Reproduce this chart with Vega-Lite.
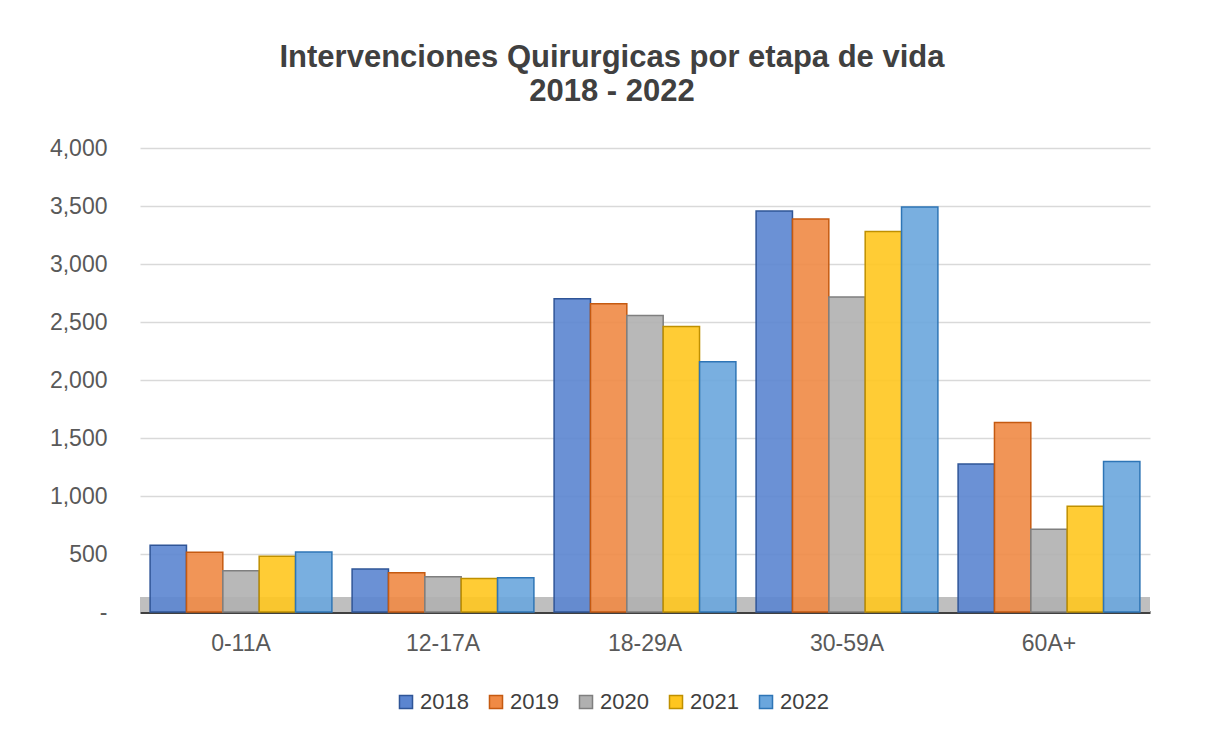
{
  "$schema": "https://vega.github.io/schema/vega-lite/v6.json",
  "autosize": {"type": "none"},
  "width": 1010,
  "height": 464,
  "padding": {"left": 140, "top": 148, "right": 55, "bottom": 119},
  "background": "white",
  "title": {
    "text": ["Intervenciones Quirurgicas por etapa de vida", "2018 - 2022"],
    "font": "Liberation Sans",
    "fontSize": 31,
    "fontWeight": "bold",
    "color": "#404040",
    "anchor": "middle",
    "dx": -33,
    "offset": 29,
    "lineHeight": 34
  },
  "config": {
    "view": {"stroke": null},
    "font": "Liberation Sans"
  },
  "data": {
    "values": [
      {"etapa": "0-11A", "anio": "2018", "valor": 575},
      {"etapa": "0-11A", "anio": "2019", "valor": 515},
      {"etapa": "0-11A", "anio": "2020", "valor": 355},
      {"etapa": "0-11A", "anio": "2021", "valor": 480},
      {"etapa": "0-11A", "anio": "2022", "valor": 518},
      {"etapa": "12-17A", "anio": "2018", "valor": 371},
      {"etapa": "12-17A", "anio": "2019", "valor": 339},
      {"etapa": "12-17A", "anio": "2020", "valor": 304},
      {"etapa": "12-17A", "anio": "2021", "valor": 289},
      {"etapa": "12-17A", "anio": "2022", "valor": 296},
      {"etapa": "18-29A", "anio": "2018", "valor": 2700},
      {"etapa": "18-29A", "anio": "2019", "valor": 2658},
      {"etapa": "18-29A", "anio": "2020", "valor": 2555},
      {"etapa": "18-29A", "anio": "2021", "valor": 2462},
      {"etapa": "18-29A", "anio": "2022", "valor": 2158},
      {"etapa": "30-59A", "anio": "2018", "valor": 3456},
      {"etapa": "30-59A", "anio": "2019", "valor": 3388},
      {"etapa": "30-59A", "anio": "2020", "valor": 2716},
      {"etapa": "30-59A", "anio": "2021", "valor": 3281},
      {"etapa": "30-59A", "anio": "2022", "valor": 3491},
      {"etapa": "60A+", "anio": "2018", "valor": 1275},
      {"etapa": "60A+", "anio": "2019", "valor": 1634},
      {"etapa": "60A+", "anio": "2020", "valor": 713},
      {"etapa": "60A+", "anio": "2021", "valor": 912},
      {"etapa": "60A+", "anio": "2022", "valor": 1298}
    ]
  },
  "layer": [
    {
      "mark": {"type": "rect", "color": "#BFBFBF"},
      "encoding": {
        "y": {
          "datum": 0,
          "type": "quantitative",
          "scale": {"domain": [0, 4000]},
          "axis": {
            "title": null,
            "values": [0, 500, 1000, 1500, 2000, 2500, 3000, 3500, 4000],
            "labelExpr": "datum.value == 0 ? '-' : format(datum.value, ',')",
            "labelFontSize": 23,
            "labelColor": "#595959",
            "labelPadding": 33,
            "labelOverlap": false,
            "ticks": false,
            "domain": false,
            "grid": true,
            "gridColor": "#D9D9D9",
            "gridWidth": 1.5
          }
        },
        "y2": {"datum": 130}
      }
    },
    {
      "mark": {"type": "bar", "strokeWidth": 1.5, "fillOpacity": 0.9},
      "encoding": {
        "x": {
          "field": "etapa",
          "type": "nominal",
          "sort": null,
          "scale": {"paddingInner": 0.1, "paddingOuter": 0.05},
          "axis": {
            "title": null,
            "labelAngle": 0,
            "labelFontSize": 23,
            "labelColor": "#595959",
            "labelPadding": 20,
            "ticks": false,
            "domainColor": "#404040",
            "domainWidth": 3
          }
        },
        "xOffset": {"field": "anio", "type": "nominal"},
        "y": {
          "field": "valor",
          "type": "quantitative",
          "scale": {"domain": [0, 4000]},
          "axis": {
            "title": null,
            "values": [0, 500, 1000, 1500, 2000, 2500, 3000, 3500, 4000],
            "labelExpr": "datum.value == 0 ? '-' : format(datum.value, ',')",
            "labelFontSize": 23,
            "labelColor": "#595959",
            "labelPadding": 33,
            "labelOverlap": false,
            "ticks": false,
            "domain": false,
            "grid": true,
            "gridColor": "#D9D9D9",
            "gridWidth": 1.5
          }
        },
        "color": {
          "field": "anio",
          "type": "nominal",
          "scale": {
            "domain": ["2018", "2019", "2020", "2021", "2022"],
            "range": ["#5B85D0", "#F08A45", "#B0B0B0", "#FFC61F", "#6AA6DD"]
          },
          "legend": {
            "title": null,
            "orient": "none",
            "legendX": 255,
            "legendY": 543,
            "direction": "horizontal",
            "symbolType": "square",
            "symbolSize": 170,
            "symbolStrokeWidth": 1.5,
            "labelFontSize": 22,
            "labelColor": "#404040",
            "labelOffset": 3,
            "columnPadding": 16
          }
        },
        "stroke": {
          "field": "anio",
          "type": "nominal",
          "scale": {
            "domain": ["2018", "2019", "2020", "2021", "2022"],
            "range": ["#2F5597", "#C55A11", "#7F7F7F", "#BF9000", "#2E75B6"]
          },
          "legend": null
        }
      }
    }
  ]
}
